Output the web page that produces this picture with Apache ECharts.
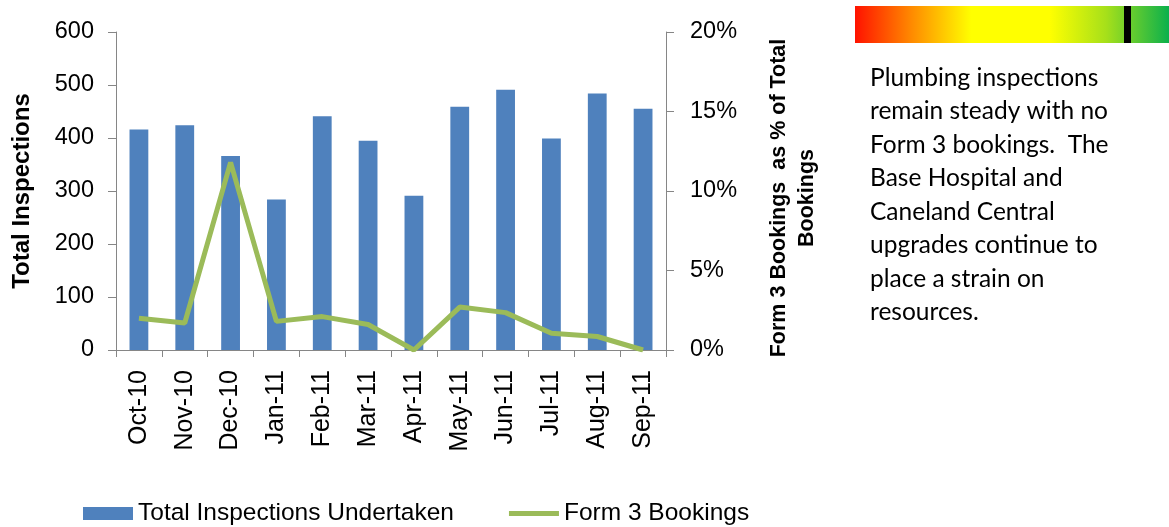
<!DOCTYPE html>
<html>
<head>
<meta charset="utf-8">
<script src="https://cdn.jsdelivr.net/npm/echarts@6/dist/echarts.min.js"></script>
<style>
  html,body{margin:0;padding:0;background:#fff;}
  #main{width:1169px;height:527px;}
</style>
</head>
<body>
<div id="main"></div>
<script>
// 月份
let months = ['Oct-10','Nov-10','Dec-10','Jan-11','Feb-11','Mar-11','Apr-11','May-11','Jun-11','Jul-11','Aug-11','Sep-11'];
// 检查总数
let inspections = [416, 424, 366, 284, 441, 395, 291, 459, 491, 399, 484, 455];
// Form 3 占比 (%)
let form3Pct = [2.0, 1.7, 11.8, 1.8, 2.1, 1.6, 0, 2.7, 2.35, 1.05, 0.85, 0];
let leftTicks = {min: 0, max: 600, interval: 100};
let rightTicks = {min: 0, max: 20, interval: 5};
let commentLines = [
  'Plumbing inspections',
  'remain steady with no',
  'Form 3 bookings.  The',
  'Base Hospital and',
  'Caneland Central',
  'upgrades continue to',
  'place a strain on',
  'resources.'
];

let chartDom = document.getElementById('main');
let myChart = echarts.init(chartDom);
let font = 'Liberation Sans, Arial, sans-serif';
let axisGray = '#868686';

let option = {
  animation: false,
  textStyle: {fontFamily: font},
  grid: {left: 116, right: 503, top: 32, bottom: 177},
  legend: {
    left: 78,
    top: 496,
    itemWidth: 50,
    itemHeight: 13,
    itemGap: 55,
    symbolKeepAspect: true,
    textStyle: {fontSize: 24.5, color: '#000', fontFamily: font},
    data: [
      {name: 'Total Inspections Undertaken', icon: 'rect'},
      {name: 'Form 3 Bookings', icon: 'path://M0,0H50V5H0Z'}
    ]
  },
  xAxis: {
    type: 'category',
    data: months,
    axisLine: {lineStyle: {color: axisGray, width: 1}},
    axisTick: {show: true, length: 7, lineStyle: {color: axisGray}},
    axisLabel: {rotate: 90, margin: 20, fontSize: 25, color: '#000', interval: 0},
    splitLine: {show: false}
  },
  yAxis: [
    {
      type: 'value',
      min: leftTicks.min,
      max: leftTicks.max,
      interval: leftTicks.interval,
      name: 'Total Inspections',
      nameLocation: 'middle',
      nameRotate: 90,
      nameGap: 82,
      nameTextStyle: {fontSize: 24, fontWeight: 'bold', color: '#000'},
      axisLine: {show: true, lineStyle: {color: axisGray}},
      axisTick: {show: true, length: 8, lineStyle: {color: axisGray}},
      axisLabel: {fontSize: 23.5, color: '#000', margin: 22},
      splitLine: {show: false}
    },
    {
      type: 'value',
      position: 'right',
      min: rightTicks.min,
      max: rightTicks.max,
      interval: rightTicks.interval,
      name: 'Form 3 Bookings  as % of Total\nBookings',
      nameLocation: 'middle',
      nameRotate: 90,
      nameGap: 99,
      nameTextStyle: {fontSize: 21.5, fontWeight: 'bold', color: '#000', lineHeight: 28, align: 'center', padding: [0, 14, 0, 0]},
      axisLine: {show: true, lineStyle: {color: axisGray}},
      axisTick: {show: true, length: 8, lineStyle: {color: axisGray}},
      axisLabel: {fontSize: 23.5, color: '#000', margin: 24, formatter: '{value}%'},
      splitLine: {show: false}
    }
  ],
  series: [
    {
      name: 'Total Inspections Undertaken',
      type: 'bar',
      yAxisIndex: 0,
      barWidth: '41%',
      data: inspections,
      itemStyle: {color: '#4F81BD'}
    },
    {
      name: 'Form 3 Bookings',
      type: 'line',
      yAxisIndex: 1,
      data: form3Pct,
      symbol: 'none',
      lineStyle: {color: '#9BBB59', width: 5},
      itemStyle: {color: '#9BBB59'}
    }
  ],
  graphic: [
    {
      type: 'rect',
      left: 855, top: 6,
      shape: {width: 314, height: 37},
      style: {
        fill: new echarts.graphic.LinearGradient(0, 0, 1, 0, [
          {offset: 0, color: '#ff1200'},
          {offset: 0.18, color: '#ff8a00'},
          {offset: 0.37, color: '#ffff00'},
          {offset: 0.62, color: '#ffff00'},
          {offset: 0.8, color: '#a6e01a'},
          {offset: 1, color: '#0bb04c'}
        ])
      }
    },
    {
      type: 'rect',
      left: 1124, top: 6,
      shape: {width: 7, height: 37},
      style: {fill: '#000'}
    },
    {
      type: 'text',
      left: 870, top: 61,
      style: {
        text: commentLines.join('\n'),
        fontFamily: 'Lato, Calibri, sans-serif',
        fontSize: 24.5,
        lineHeight: 33.5,
        fill: '#000'
      }
    }
  ]
};

window.onresize = myChart.resize;
myChart.setOption(option);
</script>
</body>
</html>
